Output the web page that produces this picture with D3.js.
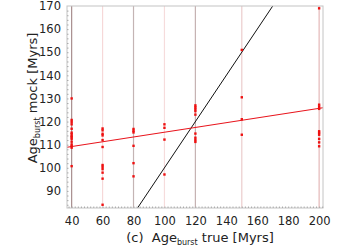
<!DOCTYPE html>
<html>
<head>
<meta charset="utf-8">
<script src="https://cdn.jsdelivr.net/npm/d3@7"></script>
<style>
  body { margin: 0; background: #fff; }
  text { font-family: "DejaVu Sans", sans-serif; fill: #222; }
</style>
</head>
<body>
<div id="container"></div>
<script>
// true burst ages (one vertical guide per value)
let trueAges = [40, 60, 80, 100, 120, 150, 200];
let guideColors = ["#a88e8e", "#f6d8d8", "#c4b4b4", "#f6dcdc", "#c6b2b2", "#ebcdcd", "#e4b8b8"];

// recovered (mock) ages for each true age
let mock40  = [130, 120.7, 119.8, 118.8, 116.9, 115.2, 114.5, 113.7, 113.2, 112.5, 111.3, 110.1, 109.4, 108.7, 100.7];
let mock60  = [117, 116.2, 114.7, 114, 112, 109, 101.2, 100.4, 99.4, 97.9, 95.3, 84];
let mock80  = [116.8, 116, 115.3, 109.5, 102, 96.3];
let mock100 = [118.8, 117.3, 112.2, 97.1];
let mock120 = [127, 126.2, 125.4, 124.5, 123, 114.8, 113, 112, 111.2];
let mock150 = [151, 130.5, 121, 114.3];
let mock200 = [169, 127.3, 126.4, 125.5, 115.8, 115.1, 114.3, 112.5, 111, 109.3];

// linear fit end points and the one-to-one line
let fitLine = [[37, 108.9], [202.5, 126]];
let oneToOne = [[37, 37], [202.5, 202.5]];

let xTicks = [40, 60, 80, 100, 120, 140, 160, 180, 200];
let yTicks = [90, 100, 110, 120, 130, 140, 150, 160, 170];

let margin = {top: 6, right: 31, bottom: 42, left: 67},
    width = 354 - margin.left - margin.right,
    height = 250 - margin.top - margin.bottom;

let svg = d3.select('#container').append("svg")
    .attr("width", 354)
    .attr("height", 250);

let viz = svg.append("g")
    .attr("transform", "translate(" + margin.left + "," + margin.top + ")");

let xScale = d3.scaleLinear().domain([37, 202.5]).range([0, width]);
let yScale = d3.scaleLinear().domain([82.6, 170]).range([height, 0]);

viz.append("defs").append("clipPath").attr("id", "clip")
  .append("rect").attr("width", width).attr("height", height);

// vertical guides
viz.selectAll(".guide").data(trueAges)
  .enter().append("line")
    .attr("class", "guide")
    .attr("x1", d => xScale(d)).attr("x2", d => xScale(d))
    .attr("y1", 0).attr("y2", height)
    .attr("stroke", (d, i) => guideColors[i])
    .attr("stroke-width", 1.2);

let lineGen = d3.line().x(d => xScale(d[0])).y(d => yScale(d[1]));

let lines = viz.append("g").attr("clip-path", "url(#clip)");
lines.append("path").datum(oneToOne)
    .attr("d", lineGen).attr("fill", "none")
    .attr("stroke", "#111").attr("stroke-width", 1);
lines.append("path").datum(fitLine)
    .attr("d", lineGen).attr("fill", "none")
    .attr("stroke", "#e8141c").attr("stroke-width", 1.1);

// points
let groups = [mock40, mock60, mock80, mock100, mock120, mock150, mock200];
let points = [];
groups.forEach(function(vals, i) {
  vals.forEach(function(v) { points.push({x: trueAges[i], y: v}); });
});

viz.selectAll(".pt").data(points)
  .enter().append("rect")
    .attr("class", "pt")
    .attr("x", d => xScale(d.x) - 1.2)
    .attr("y", d => yScale(d.y) - 1.2)
    .attr("width", 2.4).attr("height", 2.4)
    .attr("fill", "#ee1111");

// frame
viz.append("rect")
    .attr("width", width).attr("height", height)
    .attr("fill", "none").attr("stroke", "#c4c4c4").attr("stroke-width", 1);

// minor ticks
let xMinor = d3.range(38, 203, 2);
viz.append("g")
    .attr("transform", "translate(0," + height + ")")
    .call(d3.axisTop(xScale).tickValues(xMinor).tickSize(1.5).tickFormat(""))
    .call(g => g.select(".domain").remove())
    .selectAll("line").attr("stroke", "#aaa");
let yMinor = d3.range(84, 170, 2);
viz.append("g")
    .call(d3.axisRight(yScale).tickValues(yMinor).tickSize(1.5).tickFormat(""))
    .call(g => g.select(".domain").remove())
    .selectAll("line").attr("stroke", "#aaa");

// axes
let xAxis = viz.append("g")
    .attr("transform", "translate(0," + height + ")")
    .call(d3.axisBottom(xScale).tickValues(xTicks).tickSize(0).tickPadding(9));
xAxis.select(".domain").remove();
xAxis.selectAll("text").attr("font-size", 11.5).style("font-family", "DejaVu Sans");

let yAxis = viz.append("g")
    .call(d3.axisLeft(yScale).tickValues(yTicks).tickSize(0).tickPadding(6));
yAxis.select(".domain").remove();
yAxis.selectAll("text").attr("font-size", 11.5).style("font-family", "DejaVu Sans");

// axis titles
let xt = svg.append("text")
    .attr("x", 200).attr("y", 242)
    .attr("text-anchor", "middle")
    .attr("font-size", 13)
    .style("white-space", "pre");
xt.append("tspan").text("(c)  Age");
xt.append("tspan").attr("font-size", 8).attr("dy", 3).text("burst");
xt.append("tspan").attr("dy", -3).text(" true [Myrs]");

let yt = svg.append("text")
    .attr("transform", "translate(37," + 98 + ") rotate(-90)")
    .attr("text-anchor", "middle")
    .attr("font-size", 13);
yt.append("tspan").text("Age");
yt.append("tspan").attr("font-size", 8).attr("dy", 3).text("burst");
yt.append("tspan").attr("dy", -3).text(" mock [Myrs]");
</script>
</body>
</html>
